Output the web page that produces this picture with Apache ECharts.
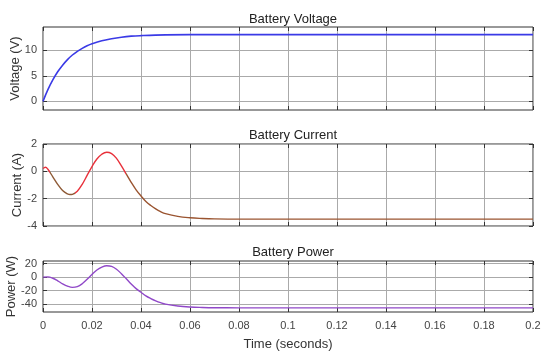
<!DOCTYPE html>
<html><head><meta charset="utf-8">
<script src="https://cdn.jsdelivr.net/npm/echarts@6/dist/echarts.min.js"></script>
<style>html,body{margin:0;padding:0;background:#fff}#c{width:550px;height:358px}</style>
</head><body><div id="c"></div>
<script>
// Time samples (seconds)
var vTime = [0,0.002,0.004,0.006,0.008,0.010,0.012,0.014,0.016,0.018,0.020,0.024,0.028,0.032,0.036,0.040,0.050,0.060,0.080,0.200];
var voltage = [0,2.3,4.2,5.8,7.1,8.2,9.1,9.8,10.4,10.9,11.3,11.9,12.3,12.6,12.8,12.9,13.05,13.1,13.1,13.1];

var iTime = [0,0.001,0.002,0.004,0.006,0.008,0.010,0.011,0.012,0.014,0.016,0.018,0.020,0.022,0.024,0.026,0.028,0.030,0.032,0.034,0.036,0.038,0.040,0.042,0.044,0.046,0.048,0.050,0.055,0.060,0.065,0.070,0.080,0.200];
var current = [0.2,0.3,0.15,-0.4,-0.95,-1.4,-1.65,-1.7,-1.68,-1.45,-0.95,-0.3,0.35,0.9,1.25,1.4,1.3,0.95,0.4,-0.2,-0.8,-1.35,-1.8,-2.2,-2.5,-2.75,-2.95,-3.1,-3.3,-3.4,-3.45,-3.48,-3.5,-3.5];

var pTime = [0,0.002,0.004,0.006,0.008,0.010,0.012,0.014,0.016,0.018,0.020,0.022,0.024,0.026,0.028,0.030,0.032,0.034,0.036,0.038,0.040,0.042,0.044,0.046,0.048,0.050,0.055,0.060,0.065,0.070,0.080,0.200];
var power = [0,0.3,-1.7,-5.5,-10,-13.5,-15.3,-14.2,-9.9,-3.3,4,10.5,14.9,17,16,11.8,5,-2.5,-10.2,-17.2,-22.5,-28,-32,-35.3,-38,-40.2,-43,-44.5,-45.2,-45.6,-45.8,-45.8];

var xTicks = [0,0.02,0.04,0.06,0.08,0.1,0.12,0.14,0.16,0.18,0.2];
var vTicks = [0,5,10];
var iTicks = [-4,-2,0,2];
var pTicks = [-40,-20,0,20];

function zip(a,b){return a.map(function(t,i){return [t,b[i]];});}

var FONT = 'Liberation Sans, Arial, sans-serif';
var grids = [
  {left:43, right:17, top:27, height:83},
  {left:43, right:17, top:144, height:82},
  {left:43, right:17, top:261, height:51}
];
var gridOpts = grids.map(function(g){return Object.assign({show:true,borderColor:'#333',borderWidth:1,backgroundColor:'#fff',containLabel:false,outerBoundsMode:'none'},g);});

var xAxes=[], yAxes=[];
[0,1,2].forEach(function(i){
  xAxes.push({type:'value',gridIndex:i,min:0,max:0.2,
    axisLine:{show:false,onZero:false},
    axisTick:{show:true,inside:true,length:4,lineStyle:{color:'#333'},customValues:xTicks},
    splitLine:{show:true,lineStyle:{color:'#aaa',width:1}},
    axisLabel:{show:i===2,customValues:xTicks,color:'#444',fontSize:11,fontFamily:FONT,margin:8,
      formatter:function(v){return String(+(+v).toFixed(2));}},
    name:i===2?'Time (seconds)':'',nameLocation:'middle',nameGap:26,nameMoveOverlap:false,
    nameTextStyle:{color:'#333',fontSize:13,fontFamily:FONT}
  });
  xAxes.push({type:'value',gridIndex:i,min:0,max:0.2,position:'top',
    axisLine:{show:false,onZero:false},axisLabel:{show:false},splitLine:{show:false},
    axisTick:{show:true,inside:true,length:4,lineStyle:{color:'#333'},customValues:xTicks}
  });
});
var yCfg = [
  {min:-1.7,max:14.6,ticks:vTicks,name:'Voltage (V)',gap:21},
  {min:-4,max:2,ticks:iTicks,name:'Current (A)',gap:19},
  {min:-52,max:24,ticks:pTicks,name:'Power (W)',gap:25}
];
yCfg.forEach(function(c,i){
  yAxes.push({type:'value',gridIndex:i,min:c.min,max:c.max,
    axisLine:{show:false,onZero:false},
    axisTick:{show:true,inside:true,length:4,lineStyle:{color:'#333'},customValues:c.ticks},
    splitLine:{show:true,lineStyle:{color:'#aaa',width:1}},
    axisLabel:{customValues:c.ticks,color:'#444',fontSize:11,fontFamily:FONT,margin:6},
    name:c.name,nameLocation:'middle',nameGap:c.gap,nameRotate:90,nameMoveOverlap:false,
    nameTextStyle:{color:'#333',fontSize:13,fontFamily:FONT}
  });
  yAxes.push({type:'value',gridIndex:i,min:c.min,max:c.max,position:'right',
    axisLine:{show:false,onZero:false},axisLabel:{show:false},splitLine:{show:false},
    axisTick:{show:true,inside:true,length:4,lineStyle:{color:'#333'},customValues:c.ticks}
  });
});

var titleStyle = {color:'#222',fontSize:13,fontWeight:'normal',fontFamily:FONT};
var option = {
  animation:false,
  backgroundColor:'#fff',
  title:[
    {text:'Battery Voltage',left:288,top:8,textAlign:'center',textStyle:titleStyle},
    {text:'Battery Current',left:288,top:124,textAlign:'center',textStyle:titleStyle},
    {text:'Battery Power',left:288,top:241,textAlign:'center',textStyle:titleStyle}
  ],
  grid:gridOpts,
  xAxis:xAxes,
  yAxis:yAxes,
  visualMap:[{type:'piecewise',show:false,seriesIndex:1,dimension:0,
    pieces:[{lt:0.003,color:'#e8303a'},{gte:0.003,lt:0.013,color:'#8e5a36'},{gte:0.013,lt:0.034,color:'#e8303a'},{gte:0.034,color:'#9a5430'}]}],
  series:[
    {type:'line',xAxisIndex:0,yAxisIndex:0,data:zip(vTime,voltage),smooth:0.4,showSymbol:false,
      lineStyle:{color:'#3a3ae6',width:1.6}},
    {type:'line',xAxisIndex:2,yAxisIndex:2,data:zip(iTime,current),smooth:0.4,showSymbol:false,
      lineStyle:{width:1.4}},
    {type:'line',xAxisIndex:4,yAxisIndex:4,data:zip(pTime,power),smooth:0.4,showSymbol:false,
      lineStyle:{color:'#9048c8',width:1.4}}
  ]
};
echarts.init(document.getElementById('c')).setOption(option);
</script></body></html>
